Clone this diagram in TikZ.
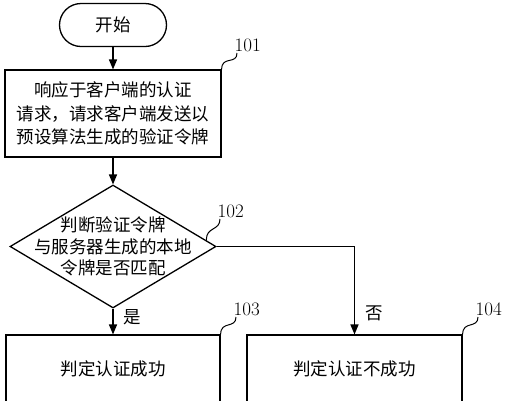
\documentclass[tikz,border=0pt]{standalone}
\usepackage{fontspec}
\newfontfamily\cjk{Noto Sans CJK SC}
\usetikzlibrary{shapes,arrows}
\usetikzlibrary{positioning,calc}

\begin{document}
\begin{tikzpicture}[x=1pt, y=-1pt, line width=1.3pt,
        font=\cjk\fontsize{17.5}{23.5}\selectfont,
        startstop/.style={draw, rectangle, rounded corners=21.5pt, minimum width=107pt, minimum height=43pt},
        process/.style={draw, rectangle, align=center, minimum height=87pt},
        decision/.style={draw, diamond, minimum width=206pt, minimum height=123pt, inner sep=0pt},
        flow/.style={-triangle 45},
        tag/.style={font=\fontsize{19}{19}\selectfont, inner sep=1pt, anchor=south west, xshift=-4pt},
        leader/.style={line width=1pt}]
        \useasboundingbox (0,0) rectangle (508,400);
        \clip (0,0) rectangle (508,400);

        \node[startstop] (start) at (113,25) {开始};
        \node[process, minimum width=216pt] (b101) at (113,113.5) {响应于客户端的认证\\请求，请求客户端发送以\\预设算法生成的验证令牌};
        \node[decision] (d102) at (113,246.5) {};
        \node[align=center, font=\cjk\fontsize{17.5}{21.5}\selectfont] (t102) at (d102.center) {判断验证令牌\\与服务器生成的本地\\令牌是否匹配};
        \node[process, minimum width=214pt, minimum height=67pt] (b103) at (113,368.5) {判定认证成功};
        \node[process, minimum width=215pt, minimum height=67pt] (b104) at (354.5,368.5) {判定认证不成功};

        \draw[flow] (start) -- (b101);
        \draw[flow] (b101) -- (d102);
        \draw[flow] (d102) -- node[right=7pt, pos=0.35] {是} (b103);
        \draw[flow] (d102.east) -| node[right=7pt, pos=0.88] {否} (b104);

        % reference numbers
        \coordinate (e101) at (237,53);
        \coordinate (e102) at (220,219);
        \coordinate (e103) at (236,317);
        \coordinate (e104) at (478,317);
        \draw[leader] (b101.north east) .. controls +(0,-14) and +(0,12) .. (e101);
        \draw[leader] ($(d102.east)!0.1!(d102.north)$) .. controls +(0,-14) and +(0,12) .. (e102);
        \draw[leader] (b103.north east) .. controls +(0,-14) and +(0,12) .. (e103);
        \draw[leader] (b104.north east) .. controls +(0,-14) and +(0,12) .. (e104);
        \node[tag] (n101) at (e101) {101};
        \node[tag] (n102) at (e102) {102};
        \node[tag] (n103) at (e103) {103};
        \node[tag] (n104) at (e104) {104};
\end{tikzpicture}
\end{document}
